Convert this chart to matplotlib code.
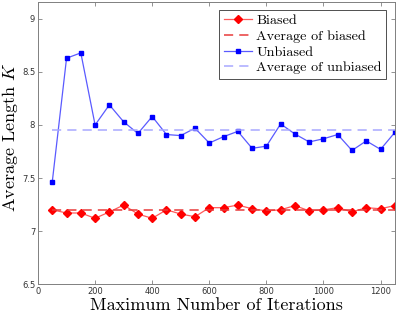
import matplotlib
matplotlib.use("Agg")
import matplotlib.pyplot as plt

iterations = [50, 100, 150, 200, 250, 300, 350, 400, 450, 500, 550, 600, 650,
              700, 750, 800, 850, 900, 950, 1000, 1050, 1100, 1150, 1200, 1250]
biased = [7.20, 7.17, 7.17, 7.12, 7.18, 7.245, 7.16, 7.12, 7.20, 7.16, 7.135, 7.22, 7.22,
          7.245, 7.21, 7.19, 7.20, 7.24, 7.19, 7.20, 7.22, 7.18, 7.22, 7.21, 7.24]
unbiased = [7.465, 8.63, 8.68, 8.00, 8.19, 8.03, 7.92, 8.08, 7.91, 7.90, 7.97, 7.83, 7.89,
            7.94, 7.78, 7.80, 8.01, 7.915, 7.84, 7.87, 7.91, 7.76, 7.85, 7.77, 7.93]
avg_biased = 7.195
avg_unbiased = 7.953

plt.rcParams['mathtext.fontset'] = 'cm'
cm_font = 'cmr10'

fig = plt.figure(figsize=(3.98, 3.17), dpi=100)
ax = fig.add_axes([0.0955, 0.104, 0.8965, 0.8897])

ax.plot(iterations, biased, color='#ff5a5a', lw=0.9, marker='D', ms=4.3,
        mfc='red', mec='red', label='Biased')
ax.plot([iterations[0], iterations[-1]], [avg_biased, avg_biased], color='#e83a3a',
        lw=1.1, ls=(0, (6, 4)), label='Average of biased')
ax.plot(iterations, unbiased, color='#5a5aff', lw=0.9, marker='s', ms=3.3,
        mfc='blue', mec='blue', label='Unbiased')
ax.plot([iterations[0], iterations[-1]], [avg_unbiased, avg_unbiased], color='#a8a8ff',
        lw=1.1, ls=(0, (6, 4)), label='Average of unbiased')

ax.set_xlim(0, 1250)
ax.set_ylim(6.5, 9.16)
ax.set_xticks([0, 200, 400, 600, 800, 1000, 1200])
ax.set_yticks([6.5, 7, 7.5, 8, 8.5, 9])
ax.set_yticklabels(['6.5', '7', '7.5', '8', '8.5', '9'])
ax.tick_params(direction='in', top=True, right=True, labelsize=6, length=3,
               color='#808080', labelcolor='#333333', width=0.6, pad=2)
for s in ax.spines.values():
    s.set_color('#808080')
    s.set_linewidth(0.7)

ax.set_xlabel('Maximum Number of Iterations', fontfamily=cm_font, fontsize=13, labelpad=1)
ax.set_ylabel(r'Average Length $K$', fontfamily=cm_font, fontsize=13)
ax.yaxis.set_label_coords(-0.05, 0.52)

leg = ax.legend(loc='upper right', prop={'family': cm_font, 'size': 10.2},
                fancybox=False, framealpha=1, edgecolor='#333333',
                borderpad=0.3, labelspacing=0.2, handlelength=2.0, handletextpad=0.3,
                borderaxespad=0, bbox_to_anchor=(0.975, 0.972))
leg.get_frame().set_linewidth(0.6)

fig.savefig('out.png', dpi=100)
